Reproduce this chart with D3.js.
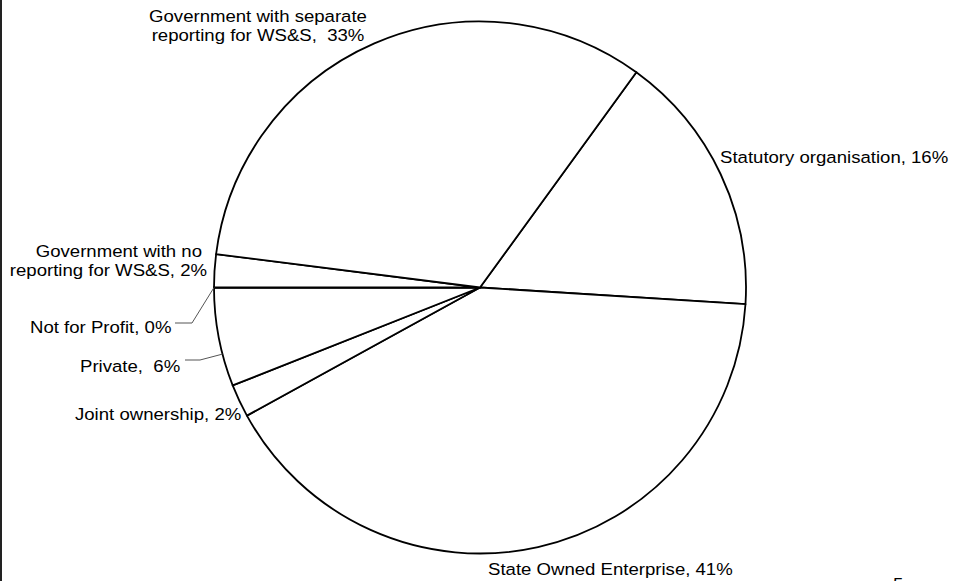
<!DOCTYPE html>
<html>
<head>
<meta charset="utf-8">
<script src="https://cdn.jsdelivr.net/npm/d3@7"></script>
<style>
  html, body { margin: 0; padding: 0; background: #fff; }
  svg { display: block; }
  text { font-family: "Liberation Sans", Arial, sans-serif; fill: #000; white-space: pre; }
</style>
</head>
<body>
<svg id="chart" width="955" height="581"></svg>
<script>
// Ownership of water supply & sanitation utilities (share of utilities, %)
const categories = [
  "Statutory organisation",
  "State Owned Enterprise",
  "Joint ownership",
  "Private",
  "Not for Profit",
  "Government with no reporting for WS&S",
  "Government with separate reporting for WS&S"
];
const shares = [16, 41, 2, 6, 0, 2, 33];
const labelLines = [
  ["Statutory organisation, 16%"],
  ["State Owned Enterprise, 41%"],
  ["Joint ownership, 2%"],
  ["Private,  6%"],
  ["Not for Profit, 0%"],
  ["Government with no", "reporting for WS&S, 2%"],
  ["Government with separate", "reporting for WS&S,  33%"]
];
const pageNumber = "5";

// Layout
const W = 955, H = 581;
const cx = 480, cy = 287.5, R = 266;
const startDeg = 36;
const fontSize = 16.6, stretch = 1.12, lineGap = 19;

// Label placement per slice: anchor, x for each line, first baseline, optional leader
const labelLayout = [
  { anchor: "start",  xs: [720],      y: 163 },
  { anchor: "start",  xs: [488],      y: 575 },
  { anchor: "start",  xs: [75],       y: 420 },
  { anchor: "start",  xs: [80],       y: 372, leader: { from: [185, 360], elbow: [200, 360], angleDeg: 255.5 } },
  { anchor: "start",  xs: [30],       y: 333, leader: { from: [175, 323], elbow: [192, 323], angleDeg: 270 } },
  { anchor: "end",    xs: [202, 207], y: 257 },
  { anchor: "middle", xs: [258, 258], y: 22 }
];

const svg = d3.select("#chart");
svg.append("rect").attr("width", W).attr("height", H).attr("fill", "#fff");

// Frame line on the left edge
svg.append("line")
  .attr("x1", 1).attr("x2", 1).attr("y1", 0).attr("y2", H)
  .attr("stroke", "#222").attr("stroke-width", 2);

const rad = d => d * Math.PI / 180;
const data = categories.map((c, i) => ({ category: c, value: shares[i], lines: labelLines[i], layout: labelLayout[i] }));

const pie = d3.pie()
  .value(d => d.value)
  .sort(null)
  .startAngle(rad(startDeg))
  .endAngle(rad(startDeg + 360));

const arc = d3.arc().innerRadius(0).outerRadius(R);

const g = svg.append("g").attr("transform", `translate(${cx},${cy})`);

g.selectAll("path.slice")
  .data(pie(data))
  .join("path")
  .attr("class", "slice")
  .attr("d", arc)
  .attr("fill", "#fff")
  .attr("stroke", "#000")
  .attr("stroke-width", 1.8)
  .attr("stroke-linejoin", "round");

// Leader lines for the narrow slices
const leaderG = svg.append("g");
data.forEach(d => {
  const L = d.layout.leader;
  if (!L) return;
  const a = rad(L.angleDeg);
  const px = cx + R * Math.sin(a), py = cy - R * Math.cos(a);
  leaderG.append("polyline")
    .attr("points", [L.from, L.elbow, [px, py]].map(p => p.join(",")).join(" "))
    .attr("fill", "none")
    .attr("stroke", "#555")
    .attr("stroke-width", 1);
});

// Data labels
const labelG = svg.append("g");
data.forEach(d => {
  d.lines.forEach((line, k) => {
    labelG.append("text")
      .attr("transform", `translate(${d.layout.xs[k]},${d.layout.y + k * lineGap}) scale(${stretch},1)`)
      .attr("text-anchor", d.layout.anchor)
      .attr("font-size", fontSize)
      .text(line);
  });
});

// Page number at the bottom edge
svg.append("text")
  .attr("transform", `translate(893,590) scale(${stretch},1)`)
  .attr("font-size", fontSize)
  .text(pageNumber);
</script>
</body>
</html>
